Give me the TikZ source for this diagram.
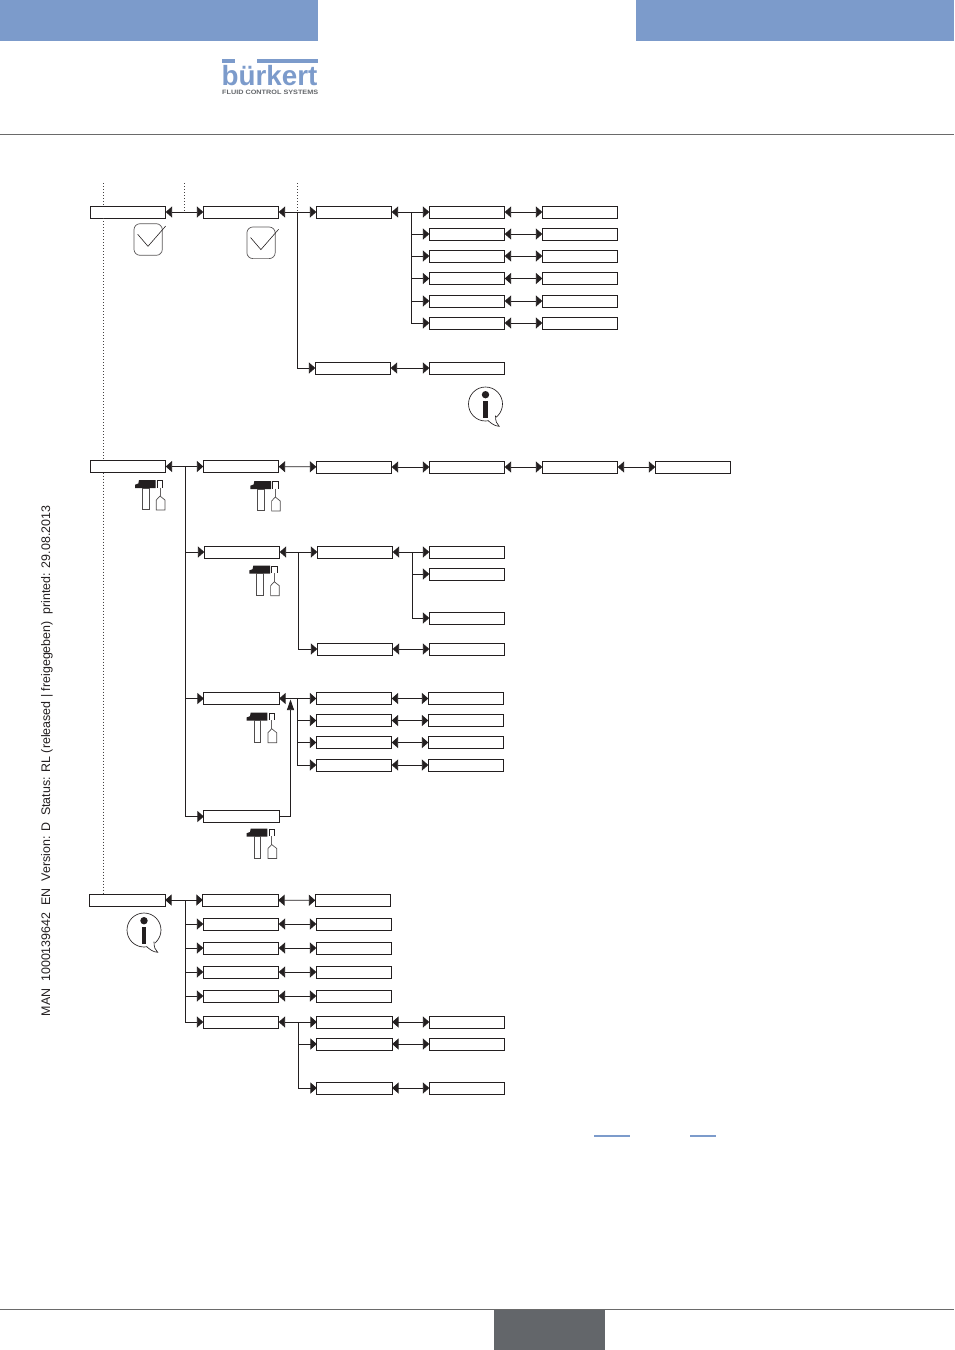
\documentclass[tikz,border=0pt]{standalone}
\usepackage{fontspec}
\setmainfont{Liberation Sans}
\usetikzlibrary{arrows.meta}
\definecolor{brandblue}{HTML}{7C9BCB}
\definecolor{footgray}{HTML}{63666A}
\definecolor{rulegray}{HTML}{6A6A6A}
\definecolor{inkblack}{HTML}{231F20}
\tikzset{
  menubox/.style={draw=inkblack,fill=white,line width=0.8pt,minimum width=75.4pt,minimum height=12pt,inner sep=0pt,outer sep=0pt},
  tip/.tip={Triangle[length=6.4pt,width=11pt]},
  uptip/.tip={Triangle[length=10.5pt,width=7pt]},
  both/.style={inkblack,line width=0.75pt,{tip}-{tip}},
  into/.style={inkblack,line width=0.75pt,-{tip}},
  rising/.style={inkblack,line width=0.75pt,-{uptip}},
  bus/.style={inkblack,line width=0.75pt},
  guide/.style={inkblack!85,line width=0.7pt,dash pattern=on 0.8pt off 2.2pt},
  checkicon/.pic={
    \draw[inkblack!75,line width=0.7pt,rounded corners=6pt] (0,0) rectangle (28.3,31.6);
    \draw[inkblack,line width=0.6pt] (3.7,10.6) -- (14,22.6) -- (31.7,2.3);
  },
  toolicon/.pic={
    \fill[inkblack] (4,0) -- (20.7,0) -- (20.7,8) -- (0,8) -- (0,4.7) -- (3.3,3.5) -- cycle;
    \draw[inkblack!80,line width=0.7pt] (7.3,8) rectangle (14,29.7);
    \draw[inkblack,line width=0.6pt] (22.3,7.5) -- (22.3,0.3) -- (27.7,0.3) -- (27.7,7.5);
    \draw[inkblack!70,line width=0.6pt] (25,7.5) -- (25,16);
    \draw[inkblack!80,line width=0.7pt] (25,16) -- (30,20) -- (30,30) -- (21.3,30) -- (21.3,20) -- cycle;
  },
  infoicon/.pic={
    \draw[inkblack,line width=0.65pt] (0,0) circle (17pt);
    \fill[white] (10,11.7) -- (13,19) -- (2.7,16.7) -- cycle;
    \draw[inkblack,line width=0.65pt] (10,11.7) .. controls (10,17) and (11,20) .. (13.7,22.3)
      .. controls (9,22) and (6,19.5) .. (2.7,16.7);
    \fill[inkblack] (0,-9.3) circle (3.7pt);
    \fill[inkblack] (-2.4,-3.3) rectangle (2.4,14);
  }
}
\begin{document}
\begin{tikzpicture}[x=1pt,y=-1pt]
\useasboundingbox (0,0) rectangle (954,1350);

% page furniture
\fill[brandblue] (0,0) rectangle (318,41);
\fill[brandblue] (636,0) rectangle (954,41);
\draw[rulegray,line width=0.8pt] (0,134.5) -- (954,134.5);
\draw[rulegray,line width=0.8pt] (0,1309.5) -- (954,1309.5);
\fill[footgray] (494,1310) rectangle (605,1350);
\fill[brandblue] (594,1135) rectangle (630,1137);
\fill[brandblue] (690,1135) rectangle (716,1137);

% company logo
\fill[brandblue] (222,59) rectangle (235,62.7);
\fill[brandblue] (257,59) rectangle (318,62.7);
\node[anchor=base west,inner sep=0pt,text=brandblue,font=\bfseries\fontsize{27.8}{28}\selectfont] (logo) at (221.5,85) {bürkert};
\node[anchor=base west,inner sep=0pt,text=footgray,font=\bfseries\fontsize{6}{6}\selectfont] (claim) at (222,94)
  {\resizebox{96pt}{4.4pt}{FLUID CONTROL SYSTEMS}};

% document stamp in the margin
\node[rotate=90,inner sep=0pt,text=inkblack,font=\fontsize{12.45}{13}\selectfont] (stamp) at (47,761)
  {MAN\ \ 1000139642\ \ EN\ \ Version: D\ \ Status: RL (released | freigegeben)\ \ printed: 29.08.2013};

% first branch
\node[menubox] (a1) at (128,212) {};
\node[menubox] (a2) at (241,212) {};
\node[menubox] (a3) at (354,212) {};
\node[menubox] (a4) at (467,212) {};
\node[menubox] (a5) at (580,212) {};
\node[menubox] (b4) at (467,234) {};
\node[menubox] (b5) at (580,234) {};
\node[menubox] (c4) at (467,256) {};
\node[menubox] (c5) at (580,256) {};
\node[menubox] (d4) at (467,278.5) {};
\node[menubox] (d5) at (580,278.5) {};
\node[menubox] (e4) at (467,301) {};
\node[menubox] (e5) at (580,301) {};
\node[menubox] (f4) at (467,323) {};
\node[menubox] (f5) at (580,323) {};
\node[menubox] (g3) at (353,368) {};
\node[menubox] (g4) at (467,368) {};

% second branch
\node[menubox] (h1) at (128,466.5) {};
\node[menubox] (h2) at (241,466.5) {};
\node[menubox] (h3) at (354,467) {};
\node[menubox] (h4) at (467,467) {};
\node[menubox] (h5) at (580,467) {};
\node[menubox] (h6) at (693,467) {};
\node[menubox] (i2) at (242,552) {};
\node[menubox] (i3) at (355,552) {};
\node[menubox] (i4) at (467,552) {};
\node[menubox] (j4) at (467,574) {};
\node[menubox] (k4) at (467,618) {};
\node[menubox] (l3) at (355,649) {};
\node[menubox] (l4) at (467,649) {};
\node[menubox] (m2) at (241.5,698.5) {};
\node[menubox] (m3) at (354,698.5) {};
\node[menubox] (m4) at (466,698.5) {};
\node[menubox] (n3) at (354,720.5) {};
\node[menubox] (n4) at (466,720.5) {};
\node[menubox] (o3) at (354,742.5) {};
\node[menubox] (o4) at (466,742.5) {};
\node[menubox] (p3) at (354,765) {};
\node[menubox] (p4) at (466,765) {};
\node[menubox] (q2) at (241.5,816.5) {};

% third branch
\node[menubox] (r1) at (127.5,900) {};
\node[menubox] (r2) at (240.5,900) {};
\node[menubox] (r3) at (353,900.5) {};
\node[menubox] (s2) at (241,924) {};
\node[menubox] (s3) at (354,924) {};
\node[menubox] (t2) at (241,948) {};
\node[menubox] (t3) at (354,948) {};
\node[menubox] (u2) at (241,972) {};
\node[menubox] (u3) at (354,972) {};
\node[menubox] (v2) at (241,996) {};
\node[menubox] (v3) at (354,996) {};
\node[menubox] (w2) at (241,1022) {};
\node[menubox] (w3) at (354.5,1022) {};
\node[menubox] (w4) at (467,1022) {};
\node[menubox] (x3) at (354.5,1044) {};
\node[menubox] (x4) at (467,1044) {};
\node[menubox] (y3) at (354.5,1088) {};
\node[menubox] (y4) at (467,1088) {};

% dotted level guides
\coordinate (gd1) at (103,183);
\coordinate (gd2) at (184.5,183);
\coordinate (gd3) at (297.5,183);
\draw[guide] (gd1) -- (gd1 |- a1.north);
\draw[guide] (gd1 |- a1.south) -- (gd1 |- h1.north);
\draw[guide] (gd1 |- h1.south) -- (gd1 |- r1.north);
\draw[guide] (gd2) -- (gd2 |- a1.east);
\draw[guide] (gd3) -- (gd3 |- a2.east);

% bus junctions
\coordinate (busA) at (297.5,212);
\coordinate (busB) at (411.5,212);
\coordinate (busC) at (185.5,466.5);
\coordinate (busD) at (298,552);
\coordinate (busE) at (412,552);
\coordinate (busF) at (297.7,698.5);
\coordinate (busG) at (185,900);
\coordinate (busH) at (298,1022);
\coordinate (riser) at (290.5,699.5);

% connectors, first branch
\draw[both] (a1) -- (a2);
\draw[both] (a2) -- (a3);
\draw[both] (a3) -- (a4);
\draw[both] (a4) -- (a5);
\draw[both] (b4) -- (b5);
\draw[both] (c4) -- (c5);
\draw[both] (d4) -- (d5);
\draw[both] (e4) -- (e5);
\draw[both] (f4) -- (f5);
\draw[both] (g3) -- (g4);
\draw[into] (busA) |- (g3.west);
\draw[into] (busB) |- (b4.west);
\draw[into] (busB) |- (c4.west);
\draw[into] (busB) |- (d4.west);
\draw[into] (busB) |- (e4.west);
\draw[into] (busB) |- (f4.west);

% connectors, second branch
\draw[both] (h1) -- (h2);
\draw[both] (h2) -- (h3);
\draw[both] (h3) -- (h4);
\draw[both] (h4) -- (h5);
\draw[both] (h5) -- (h6);
\draw[both] (i2) -- (i3);
\draw[both] (i3) -- (i4);
\draw[both] (l3) -- (l4);
\draw[both] (m2) -- (m3);
\draw[both] (m3) -- (m4);
\draw[both] (n3) -- (n4);
\draw[both] (o3) -- (o4);
\draw[both] (p3) -- (p4);
\draw[into] (busC) |- (i2.west);
\draw[into] (busC) |- (m2.west);
\draw[into] (busC) |- (q2.west);
\draw[into] (busD) |- (l3.west);
\draw[into] (busE) |- (j4.west);
\draw[into] (busE) |- (k4.west);
\draw[into] (busF) |- (n3.west);
\draw[into] (busF) |- (o3.west);
\draw[into] (busF) |- (p3.west);
\draw[rising] (q2.east) -| (riser);

% connectors, third branch
\draw[both] (r1) -- (r2);
\draw[both] (r2) -- (r3);
\draw[both] (s2) -- (s3);
\draw[both] (t2) -- (t3);
\draw[both] (u2) -- (u3);
\draw[both] (v2) -- (v3);
\draw[both] (w2) -- (w3);
\draw[both] (w3) -- (w4);
\draw[both] (x3) -- (x4);
\draw[both] (y3) -- (y4);
\draw[into] (busG) |- (s2.west);
\draw[into] (busG) |- (t2.west);
\draw[into] (busG) |- (u2.west);
\draw[into] (busG) |- (v2.west);
\draw[into] (busG) |- (w2.west);
\draw[into] (busH) |- (x3.west);
\draw[into] (busH) |- (y3.west);

% icons
\pic at (134,223.7) {checkicon};
\pic at (246.9,227) {checkicon};
\pic at (485.5,404) {infoicon};
\pic at (135,480) {toolicon};
\pic at (250.3,481) {toolicon};
\pic at (249.3,565.7) {toolicon};
\pic at (246.7,712.7) {toolicon};
\pic at (246.7,828.5) {toolicon};
\pic at (144,930) {infoicon};
\end{tikzpicture}
\end{document}
